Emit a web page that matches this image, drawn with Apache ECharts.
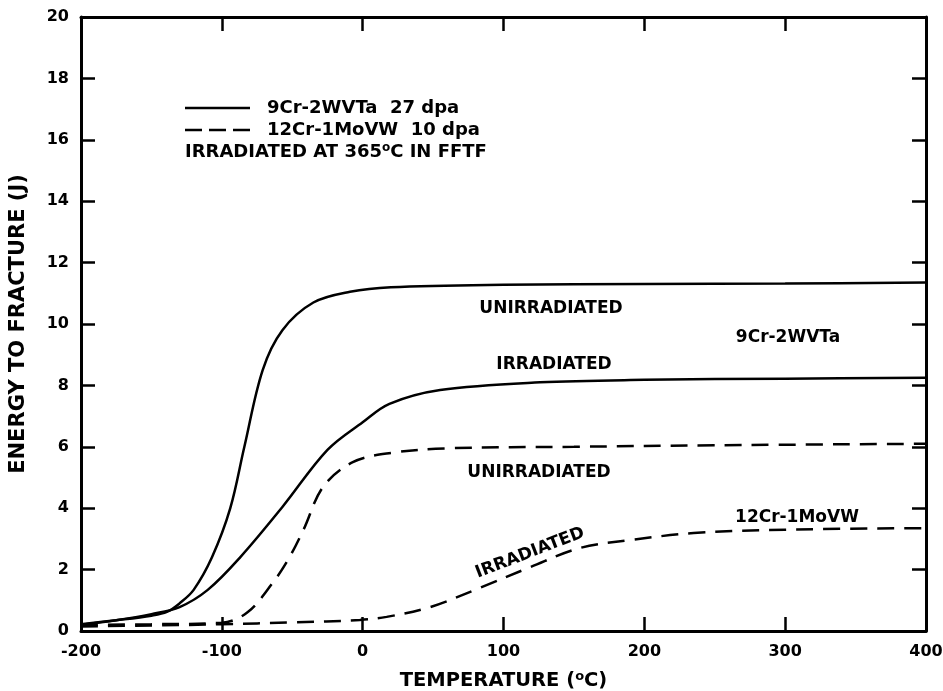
<!DOCTYPE html>
<html>
<head>
<meta charset="utf-8">
<title>Energy to fracture vs temperature</title>
<script src="https://cdn.jsdelivr.net/npm/echarts@6/dist/echarts.min.js"></script>
<style>
  html, body { margin: 0; padding: 0; background: #fff; }
  #chart { width: 943px; height: 691px; }
</style>
</head>
<body>
<div id="chart"></div>
<script>
// 9Cr-2WVTa, unirradiated (solid)
const t9Unirr = [-200, -175, -150, -139, -130, -120, -107, -94, -84, -71, -57, -35, -9, 20, 100, 200, 300, 400];
const e9Unirr = [0.22, 0.35, 0.5, 0.62, 0.9, 1.34, 2.4, 4.0, 6.0, 8.5, 9.8, 10.7, 11.05, 11.2, 11.28, 11.3, 11.32, 11.35];

// 9Cr-2WVTa, irradiated 27 dpa (solid)
const t9Irr = [-200, -175, -150, -130, -110, -87, -57, -25, 0, 19, 55, 126, 200, 300, 400];
const e9Irr = [0.2, 0.35, 0.55, 0.78, 1.34, 2.4, 4.04, 5.9, 6.8, 7.4, 7.85, 8.1, 8.18, 8.22, 8.25];

// 12Cr-1MoVW, unirradiated (dashed)
const t12Unirr = [-200, -150, -100, -82, -64, -52, -42, -28, -7, 20, 60, 150, 250, 400];
const e12Unirr = [0.2, 0.22, 0.27, 0.6, 1.56, 2.4, 3.3, 4.7, 5.5, 5.8, 5.95, 6.0, 6.05, 6.1];

// 12Cr-1MoVW, irradiated 10 dpa (dashed)
const t12Irr = [-200, -150, -100, -50, -2, 17, 48, 83, 119, 154, 190, 235, 300, 400];
const e12Irr = [0.15, 0.18, 0.22, 0.28, 0.36, 0.46, 0.78, 1.4, 2.08, 2.7, 2.96, 3.19, 3.3, 3.35];

const FONT = 'DejaVu Sans';
const INK = '#000';

function pairs(xs, ys) {
    return xs.map((x, i) => [x, ys[i]]);
}

function curve(name, xs, ys, dashed) {
    return {
        name: name,
        type: 'line',
        xAxisIndex: 0,
        yAxisIndex: 0,
        data: pairs(xs, ys),
        smooth: 0.35,
        showSymbol: false,
        silent: true,
        lineStyle: {
            color: INK,
            width: 2.5,
            type: dashed ? [17, 10] : 'solid'
        }
    };
}

function label(text, x, y, extra) {
    return Object.assign({
        type: 'text',
        x: x,
        y: y,
        style: {
            text: text,
            fill: INK,
            font: 'bold 17px "' + FONT + '"',
            align: 'center',
            verticalAlign: 'middle'
        }
    }, extra || {});
}

function legendText(text, x, y) {
    return {
        type: 'text', x: x, y: y,
        style: { text: text, fill: INK, font: 'bold 18px "' + FONT + '"', align: 'left', verticalAlign: 'middle' }
    };
}

const axisLine = { onZero: false, lineStyle: { color: INK, width: 3 } };
const axisTick = { inside: true, length: 14, lineStyle: { color: INK, width: 2.5 } };
const tickFont = { color: INK, fontFamily: FONT, fontWeight: 'bold', fontSize: 16 };

const chart = echarts.init(document.getElementById('chart'));

chart.setOption({
    backgroundColor: '#fff',
    animation: false,
    grid: { left: 81, right: 17, top: 17, bottom: 60, outerBoundsMode: 'none' },
    xAxis: [
        {
            type: 'value',
            position: 'bottom',
            min: -200, max: 400, interval: 100,
            axisLine: axisLine,
            axisTick: axisTick,
            splitLine: { show: false },
            axisLabel: Object.assign({ margin: 13 }, tickFont),
            name: '{n|TEMPERATURE (}{s|o}{n|C)}',
            nameLocation: 'middle',
            nameGap: 39,
            nameTextStyle: {
                rich: {
                    n: { fontFamily: FONT, fontSize: 19.5, color: INK, fontWeight: 'bold' },
                    s: { fontFamily: FONT, fontSize: 13, color: INK, fontWeight: 'bold', verticalAlign: 'top', padding: [0, 0, 9, 0] }
                }
            }
        },
        {
            type: 'value',
            position: 'top',
            min: -200, max: 400, interval: 100,
            axisLine: axisLine,
            axisTick: axisTick,
            splitLine: { show: false },
            axisLabel: { show: false }
        }
    ],
    yAxis: [
        {
            type: 'value',
            position: 'left',
            min: 0, max: 20, interval: 2,
            axisLine: axisLine,
            axisTick: axisTick,
            splitLine: { show: false },
            axisLabel: Object.assign({ margin: 12 }, tickFont),
            name: 'ENERGY TO FRACTURE (J)',
            nameLocation: 'middle',
            nameGap: 52,
            nameTextStyle: { fontFamily: FONT, fontSize: 21, color: INK, fontWeight: 'bold' }
        },
        {
            type: 'value',
            position: 'right',
            min: 0, max: 20, interval: 2,
            axisLine: axisLine,
            axisTick: axisTick,
            splitLine: { show: false },
            axisLabel: { show: false }
        }
    ],
    series: [
        curve('9Cr-2WVTa unirradiated', t9Unirr, e9Unirr, false),
        curve('9Cr-2WVTa irradiated', t9Irr, e9Irr, false),
        curve('12Cr-1MoVW unirradiated', t12Unirr, e12Unirr, true),
        curve('12Cr-1MoVW irradiated', t12Irr, e12Irr, true)
    ],
    graphic: [
        // legend block
        { type: 'line', shape: { x1: 185, y1: 108, x2: 250, y2: 108 }, style: { stroke: INK, lineWidth: 2.5 } },
        { type: 'line', shape: { x1: 185, y1: 130, x2: 250, y2: 130 }, style: { stroke: INK, lineWidth: 2.5, lineDash: [17, 7] } },
        legendText('9Cr-2WVTa  27 dpa', 267, 108),
        legendText('12Cr-1MoVW  10 dpa', 267, 130),
        {
            type: 'text', x: 185, y: 152,
            style: {
                text: '{n|IRRADIATED AT 365}{s|o}{n|C IN FFTF}',
                verticalAlign: 'middle',
                rich: {
                    n: { fontFamily: FONT, fontSize: 18, fontWeight: 'bold', fill: INK },
                    s: { fontFamily: FONT, fontSize: 12, fontWeight: 'bold', fill: INK, verticalAlign: 'top', padding: [0, 0, 9, 0] }
                }
            }
        },
        // curve annotations
        label('UNIRRADIATED', 551, 309),
        label('IRRADIATED', 554, 365),
        label('9Cr-2WVTa', 788, 338),
        label('UNIRRADIATED', 539, 473),
        label('12Cr-1MoVW', 797, 518),
        label('IRRADIATED', 530, 553, { rotation: 21 * Math.PI / 180 })
    ]
});

window.addEventListener('resize', function() {
    chart.resize();
});
</script>
</body>
</html>
